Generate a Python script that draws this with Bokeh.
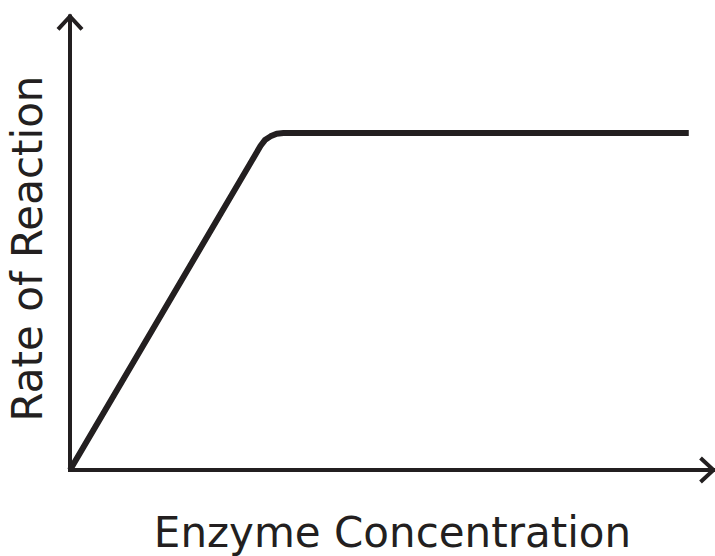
from math import pi
from bokeh.plotting import figure
from bokeh.models import Range1d, Label, ColumnDataSource
from bokeh.embed import file_html
from bokeh.resources import INLINE

# ---- data ----
enzyme_concentration = [0.0, 3.08, 3.15, 3.24, 3.34, 3.45, 10.0]
rate_of_reaction = [0.0, 9.62, 9.79, 9.90, 9.98, 10.0, 10.0]
x_label = "Enzyme Concentration"
y_label = "Rate of Reaction"

# axis extents (data units)
X_TIP = 10.4
Y_TIP = 13.46

INK = "#231f20"
W, H = 715, 556
X0, X1 = -1.1232, 10.432
Y0, Y1 = -2.567, 13.932

p = figure(width=W, height=H, output_backend="svg", toolbar_location=None,
           x_range=Range1d(X0, X1), y_range=Range1d(Y0, Y1),
           x_axis_type=None, y_axis_type=None, title=None, min_border=0)
p.outline_line_color = None
p.background_fill_color = "white"
p.border_fill_color = "white"
p.grid.visible = False

px_x = W / (X1 - X0)
px_y = H / (Y1 - Y0)

# axis lines (L shape)
p.line([0, 0, X_TIP], [Y_TIP, 0, 0], line_color=INK, line_width=4,
       line_join="miter", line_cap="square")
# arrow heads (open chevrons)
hw, hl = 12, 13
p.line([-hw / px_x, 0, hw / px_x], [Y_TIP - hl / px_y, Y_TIP, Y_TIP - hl / px_y],
       line_color=INK, line_width=4, line_join="miter")
p.line([X_TIP - hl / px_x, X_TIP, X_TIP - hl / px_x], [hw / px_y, 0, -hw / px_y],
       line_color=INK, line_width=4, line_join="miter")

# curve
src = ColumnDataSource(dict(x=enzyme_concentration, y=rate_of_reaction))
p.line("x", "y", source=src, line_color=INK, line_width=6,
       line_join="round", line_cap="butt")

FONT = "DejaVu Sans"
FS = "42px"
p.add_layout(Label(x=392, y=24, x_units="screen", y_units="screen", text=x_label,
                   text_align="center", text_baseline="alphabetic",
                   text_font=FONT, text_font_size=FS, text_color=INK))
p.add_layout(Label(x=27, y=308, x_units="screen", y_units="screen", text=y_label,
                   angle=pi / 2, text_align="center", text_baseline="alphabetic",
                   text_font=FONT, text_font_size=FS, text_color=INK))

open("out.html", "w").write(file_html(p, INLINE))
